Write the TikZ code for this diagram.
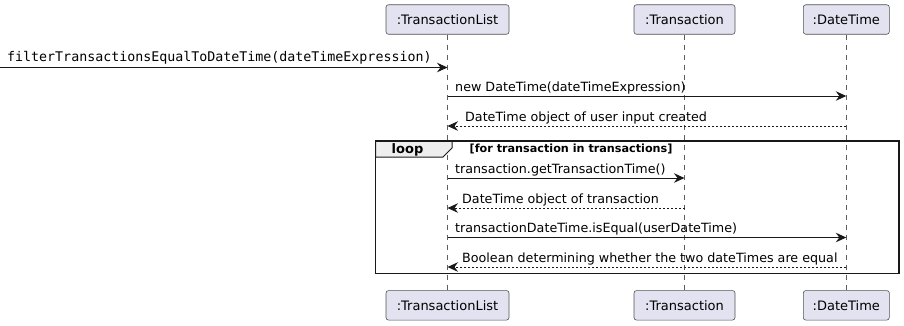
\documentclass[tikz,border=0pt]{standalone}
\usepackage{fontspec}
\setmainfont{DejaVu Sans}
\setmonofont{DejaVu Sans Mono}
\usetikzlibrary{arrows.meta}
\definecolor{partfill}{HTML}{E2E2F0}
\definecolor{partline}{HTML}{181818}
\definecolor{tabfill}{HTML}{EEEEEE}
\begin{document}
\begin{tikzpicture}[x=1pt,y=-1pt,
  participant/.style={draw=partline!75, line width=0.6pt, fill=partfill,
    rounded corners=2.5pt, minimum height=29.5pt, inner sep=0pt,
    font=\fontsize{13}{15}\selectfont},
  lifeline/.style={draw=partline!70, line width=0.6pt, dash pattern=on 5pt off 5pt},
  msg/.style={draw=partline, line width=1pt,
    -{Stealth[length=10.5pt,width=9.5pt,inset=3.5pt]}},
  ret/.style={msg, dash pattern=on 2pt off 2pt},
  lbl/.style={inner sep=0pt, anchor=base west, font=\fontsize{12.7}{15}\selectfont},
  monolbl/.style={lbl, font=\ttfamily\fontsize{13.3}{15}\selectfont},
  frameline/.style={draw=partline, line width=1.5pt},
]
\useasboundingbox (0,0) rectangle (904,325);

% participants, top and bottom
\node[participant, minimum width=123pt] (tlTop) at (447.5,19.5) {:TransactionList};
\node[participant, minimum width=101pt] (trTop) at (684.5,19.5) {:Transaction};
\node[participant, minimum width=86pt]  (dtTop) at (846.3,19.5) {:DateTime};
\node[participant, minimum width=123pt] (tlBot) at (447.5,305.3) {:TransactionList};
\node[participant, minimum width=101pt] (trBot) at (684.5,305.3) {:Transaction};
\node[participant, minimum width=86pt]  (dtBot) at (846.3,305.3) {:DateTime};

% lifelines
\draw[lifeline] (tlTop.south) -- (tlBot.north);
\draw[lifeline] (trTop.south) -- (trBot.north);
\draw[lifeline] (dtTop.south) -- (dtBot.north);

% loop frame with its tab
\draw[frameline] (375.5,141) rectangle (899,273.5);
\filldraw[fill=tabfill, draw=partline, line width=1pt]
  (375.5,141) -- (452,141) -- (452,148) -- (443,157) -- (375.5,157) -- cycle;
\draw[frameline] (375.5,141) -- (899,141);
\node[inner sep=0pt, anchor=base west, font=\bfseries\fontsize{13}{15}\selectfont]
  (looplbl) at (391.5,153.5) {loop};
\node[inner sep=0pt, anchor=base west, font=\bfseries\fontsize{11.2}{13}\selectfont]
  (loopcond) at (469.5,152) {[for transaction in transactions]};

% points on the lifelines where messages start and end
\coordinate (entry) at (0,67.5);
\foreach \y [count=\i] in {67.5,96,126,178,208,237.5,267}{
  \coordinate (tl\i) at (447.5,\y);
  \coordinate (tr\i) at (684.5,\y);
  \coordinate (dt\i) at (846.3,\y);
}

% messages
\draw[msg] (entry) -- (tl1);
\node[monolbl] (m1) at (7,61) {filterTransactionsEqualToDateTime(dateTimeExpression)};

\draw[msg] (tl2) -- (dt2);
\node[lbl] (m2) at (455,91) {new DateTime(dateTimeExpression)};

\draw[ret] (dt3) -- (tl3);
\node[lbl] (m3) at (465,121) {DateTime object of user input created};

\draw[msg] (tl4) -- (tr4);
\node[lbl] (m4) at (455,173) {transaction.getTransactionTime()};

\draw[ret] (tr5) -- (tl5);
\node[lbl] (m5) at (462,203) {DateTime object of transaction};

\draw[msg] (tl6) -- (dt6);
\node[lbl] (m6) at (455,232.5) {transactionDateTime.isEqual(userDateTime)};

\draw[ret] (dt7) -- (tl7);
\node[lbl] (m7) at (462,262) {Boolean determining whether the two dateTimes are equal};
\end{tikzpicture}
\end{document}
